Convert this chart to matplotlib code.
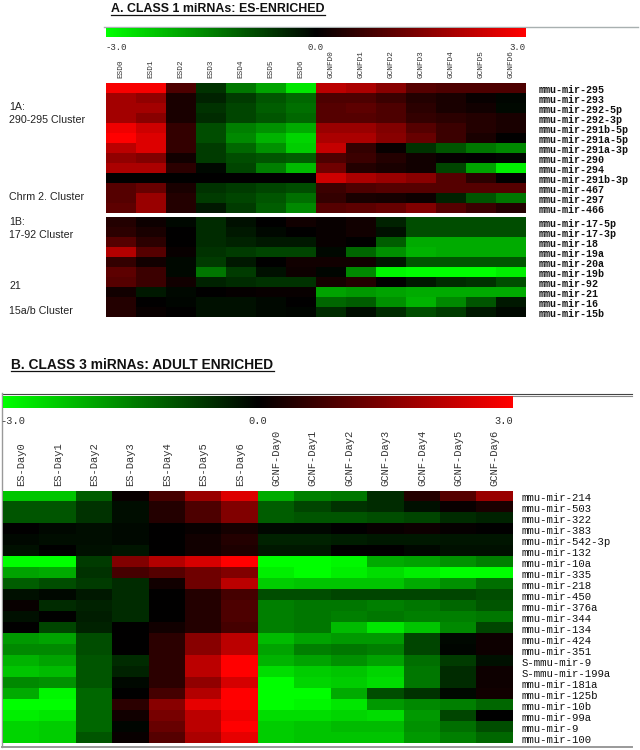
import numpy as np
import matplotlib
matplotlib.use("Agg")
import matplotlib.pyplot as plt
from matplotlib.cm import ScalarMappable
from matplotlib.colors import LinearSegmentedColormap, Normalize
from matplotlib.transforms import ScaledTranslation

W, H = 640, 750

columns_a = ["ESD0", "ESD1", "ESD2", "ESD3", "ESD4", "ESD5", "ESD6",
             "GCNFD0", "GCNFD1", "GCNFD2", "GCNFD3", "GCNFD4", "GCNFD5", "GCNFD6"]
columns_b = ["ES-Day0", "ES-Day1", "ES-Day2", "ES-Day3", "ES-Day4", "ES-Day5", "ES-Day6",
             "GCNF-Day0", "GCNF-Day1", "GCNF-Day2", "GCNF-Day3", "GCNF-Day4", "GCNF-Day5", "GCNF-Day6"]

rows_a1 = ["mmu-mir-295", "mmu-mir-293", "mmu-mir-292-5p", "mmu-mir-292-3p", "mmu-mir-291b-5p",
           "mmu-mir-291a-5p", "mmu-mir-291a-3p", "mmu-mir-290", "mmu-mir-294", "mmu-mir-291b-3p",
           "mmu-mir-467", "mmu-mir-297", "mmu-mir-466"]
values_a1 = [
    [2.9, 2.9, 0.9, -0.6, -1.4, -1.9, -2.7, 2.2, 2.0, 1.6, 1.0, 0.9, 0.9, 0.9],
    [1.9, 1.7, 0.3, -0.4, -0.7, -1.0, -1.2, 0.9, 0.9, 0.7, 0.4, 0.3, 0.1, -0.05],
    [1.9, 1.9, 0.3, -0.6, -0.8, -1.1, -1.3, 1.0, 1.1, 0.9, 0.5, 0.3, 0.2, -0.1],
    [1.9, 1.6, 0.3, -0.5, -0.8, -1.0, -1.2, 1.0, 1.0, 0.9, 0.6, 0.5, 0.4, 0.3],
    [2.8, 2.4, 0.6, -0.9, -1.5, -1.7, -2.0, 1.8, 1.8, 1.5, 1.0, 0.7, 0.4, 0.3],
    [3.0, 2.6, 0.6, -0.9, -1.6, -2.1, -2.5, 2.0, 2.0, 1.6, 1.2, 0.7, 0.3, 0.0],
    [2.2, 2.6, 0.6, -0.7, -1.2, -1.7, -2.4, 2.3, 0.6, 0.1, -0.6, -1.0, -1.4, -1.6],
    [1.7, 1.5, 0.2, -0.7, -0.9, -1.0, -1.1, 0.9, 0.7, 0.4, 0.2, 0.05, 0.0, -0.05],
    [2.0, 2.0, 0.5, -0.1, -0.8, -1.5, -2.2, 1.3, 0.4, 0.3, 0.2, -0.8, -1.9, -2.8],
    [0.0, 0.0, 0.0, 0.0, 0.0, 0.0, 0.0, 2.4, 2.0, 1.8, 1.6, 1.0, 0.5, 0.0],
    [1.0, 1.2, 0.3, -0.6, -0.7, -0.8, -0.9, 0.7, 0.9, 1.0, 1.0, 1.0, 1.0, 1.0],
    [1.0, 1.8, 0.4, -0.7, -0.8, -1.0, -1.3, 0.6, 0.3, 0.25, 0.15, -0.4, -1.0, -1.4],
    [1.1, 1.8, 0.4, -0.3, -0.7, -1.1, -1.6, 1.0, 1.1, 1.2, 1.5, 1.0, 0.7, 0.4],
]

rows_a2 = ["mmu-mir-17-5p", "mmu-mir-17-3p", "mmu-mir-18", "mmu-mir-19a", "mmu-mir-20a",
           "mmu-mir-19b", "mmu-mir-92", "mmu-mir-21", "mmu-mir-16", "mmu-mir-15b"]
values_a2 = [
    [0.4, 0.15, -0.1, -0.5, -0.2, 0.0, 0.2, 0.1, 0.2, -0.4, -0.9, -0.9, -0.9, -0.9],
    [0.5, 0.3, 0.0, -0.5, -0.3, -0.1, 0.0, 0.1, 0.2, -0.2, -0.9, -0.9, -0.9, -0.9],
    [1.0, 0.5, 0.0, -0.5, -0.4, -0.3, -0.3, 0.1, 0.0, -1.1, -2.0, -2.0, -2.0, -2.0],
    [2.1, 1.0, 0.1, -0.6, -0.7, -0.8, -0.8, -0.1, -1.2, -1.7, -2.1, -2.0, -2.0, -2.0],
    [0.6, 0.2, -0.1, -0.7, -0.3, 0.0, 0.2, 0.2, 0.2, -0.3, -1.0, -1.0, -1.0, -1.0],
    [1.1, 0.7, -0.1, -1.4, -0.7, -0.2, 0.15, -0.05, -1.6, -2.9, -3.0, -3.0, -3.0, -2.8],
    [1.0, 0.7, 0.2, -0.4, -0.5, -0.6, -0.6, 0.25, 0.4, 0.0, -0.3, -0.5, -0.6, -0.9],
    [0.2, -0.3, -0.1, 0.0, 0.05, 0.1, 0.1, -1.9, -1.8, -1.9, -2.0, -2.0, -2.0, -2.0],
    [0.4, 0.0, -0.05, -0.2, -0.2, -0.1, 0.0, -1.2, -1.1, -1.7, -2.1, -1.6, -1.0, -0.3],
    [0.4, 0.1, 0.0, -0.2, -0.2, -0.1, -0.05, -0.5, -0.15, -0.5, -0.9, -0.7, -0.3, -0.1],
]

rows_b = ["mmu-mir-214", "mmu-mir-503", "mmu-mir-322", "mmu-mir-383", "mmu-mir-542-3p", "mmu-mir-132",
          "mmu-mir-10a", "mmu-mir-335", "mmu-mir-218", "mmu-mir-450", "mmu-mir-376a", "mmu-mir-344",
          "mmu-mir-134", "mmu-mir-424", "mmu-mir-351", "S-mmu-mir-9", "S-mmu-mir-199a", "mmu-mir-181a",
          "mmu-mir-125b", "mmu-mir-10b", "mmu-mir-99a", "mmu-mir-9", "mmu-mir-100"]
values_b = [
    [-2.3, -2.3, -1.1, 0.1, 0.8, 1.8, 2.6, -2.0, -1.5, -1.4, -0.5, 0.4, 1.0, 1.8],
    [-1.0, -1.0, -0.6, -0.15, 0.4, 0.9, 1.5, -1.1, -0.8, -0.6, -0.5, -0.2, 0.1, 0.3],
    [-1.0, -1.0, -0.6, -0.15, 0.4, 0.9, 1.5, -1.1, -1.0, -1.0, -0.9, -0.8, -0.5, -0.4],
    [0.0, -0.1, -0.15, -0.1, 0.0, 0.1, 0.25, -0.1, -0.1, 0.0, 0.1, 0.15, 0.05, 0.0],
    [-0.1, -0.15, -0.15, -0.1, 0.0, 0.2, 0.4, -0.4, -0.4, -0.35, -0.3, -0.3, -0.25, -0.25],
    [-0.2, -0.02, -0.2, -0.25, 0.0, 0.2, 0.35, -0.3, -0.3, 0.0, 0.0, -0.1, -0.2, -0.2],
    [-3.0, -3.0, -0.7, 1.5, 2.1, 2.5, 3.0, -3.0, -3.0, -2.9, -2.0, -1.9, -1.7, -1.5],
    [-1.9, -2.0, -0.6, 0.8, 1.0, 1.3, 1.5, -2.8, -3.0, -2.8, -2.6, -2.8, -3.0, -3.0],
    [-1.1, -0.9, -0.7, -0.5, 0.2, 1.3, 2.2, -2.4, -2.3, -2.3, -2.3, -2.0, -1.7, -1.3],
    [-0.2, -0.1, -0.3, -0.5, 0.0, 0.4, 0.8, -0.9, -0.9, -0.8, -0.8, -0.8, -0.8, -0.9],
    [0.1, -0.5, -0.4, -0.5, 0.0, 0.4, 0.9, -1.5, -1.4, -1.4, -1.5, -1.4, -1.2, -1.0],
    [-0.2, 0.0, -0.35, -0.5, 0.0, 0.4, 0.9, -1.5, -1.4, -1.5, -1.4, -1.5, -1.5, -1.4],
    [0.0, -0.8, -0.4, 0.0, 0.2, 0.4, 0.8, -1.5, -1.4, -2.2, -2.7, -2.3, -1.6, -0.8],
    [-1.8, -1.9, -0.9, 0.0, 0.5, 1.6, 2.2, -2.2, -1.9, -1.8, -1.8, -0.8, -0.1, 0.15],
    [-1.6, -1.6, -0.9, 0.0, 0.5, 1.6, 2.2, -1.9, -1.5, -1.4, -1.5, -0.8, -0.05, 0.15],
    [-2.1, -1.9, -1.0, -0.5, 0.5, 2.2, 3.0, -2.1, -1.9, -1.7, -1.9, -1.3, -0.7, -0.2],
    [-2.3, -2.2, -1.0, -0.4, 0.5, 2.2, 3.0, -2.6, -2.4, -2.3, -2.5, -1.4, -0.5, 0.15],
    [-1.6, -1.7, -1.0, -0.1, 0.5, 1.7, 2.5, -3.0, -2.5, -2.4, -2.6, -1.4, -0.5, 0.15],
    [-2.0, -2.9, -1.2, 0.0, 0.8, 2.1, 3.0, -3.0, -3.0, -2.0, -0.9, -0.6, -0.1, 0.2],
    [-3.0, -3.0, -1.2, 0.5, 1.6, 2.7, 3.0, -3.0, -2.9, -2.7, -1.8, -1.6, -1.5, -1.2],
    [-2.8, -2.7, -1.2, 0.2, 1.4, 2.2, 2.8, -2.6, -2.6, -2.5, -2.6, -1.8, -0.8, -0.02],
    [-2.5, -2.4, -1.2, -0.05, 1.2, 2.2, 3.0, -2.4, -2.3, -2.2, -2.2, -1.7, -1.3, -0.9],
    [-2.5, -2.4, -1.0, 0.1, 1.0, 2.0, 2.7, -2.4, -2.3, -2.3, -2.3, -1.8, -1.5, -1.2],
]

cluster_labels = [("1A:", 107), ("290-295 Cluster", 120), ("Chrm 2. Cluster", 197),
                  ("1B:", 222), ("17-92 Cluster", 235), ("21", 286), ("15a/b Cluster", 311)]

cmap = LinearSegmentedColormap.from_list("gbr", ["#00ff00", "#000000", "#ff0000"])
norm = Normalize(-3, 3)
MONO = "Liberation Mono"
SANS = "Liberation Sans"


def px_axes(fig, x0, y0, x1, y1):
    return fig.add_axes([x0 / W, 1 - y1 / H, (x1 - x0) / W, (y1 - y0) / H])


def heatmap(fig, box, values, rows, columns=None, col_size=7.5, row_size=7.5, row_weight="normal", row_pad=3.5):
    ax = px_axes(fig, *box)
    ax.imshow(np.array(values), cmap=cmap, norm=norm, aspect="auto", interpolation="nearest")
    ax.yaxis.tick_right()
    ax.set_yticks(range(len(rows)), rows, fontfamily=MONO, fontsize=row_size,
                  fontweight=row_weight, color="#111111")
    if columns:
        ax.xaxis.tick_top()
        ax.set_xticks(range(len(columns)), columns, rotation=90, fontfamily=MONO,
                      fontsize=col_size, color="#333333")
    else:
        ax.set_xticks([])
    ax.tick_params(length=0)
    ax.tick_params(axis="y", pad=row_pad)
    # row names sit about 1 px under the middle of their rows
    nudge = ScaledTranslation(0, -1 / 100, fig.dpi_scale_trans)
    for label in ax.get_yticklabels():
        label.set_transform(label.get_transform() + nudge)
    for spine in ax.spines.values():
        spine.set_visible(False)
    return ax


def color_strip(fig, box, size, pad, left_shift=0):
    ax = px_axes(fig, *box)
    cb = fig.colorbar(ScalarMappable(norm=norm, cmap=cmap), cax=ax, orientation="horizontal",
                      ticks=[-3, 0, 3])
    cb.outline.set_visible(False)
    ax.tick_params(length=0, pad=pad)
    ax.set_xticklabels(["-3.0", "0.0", "3.0"], fontfamily=MONO, fontsize=size, color="#333333")
    labels = ax.get_xticklabels()
    labels[0].set_ha("left")
    labels[2].set_ha("right")
    if left_shift:
        shift = ScaledTranslation(-left_shift / 100, 0, fig.dpi_scale_trans)
        labels[0].set_transform(labels[0].get_transform() + shift)


fig = plt.figure(figsize=(W / 100, H / 100), dpi=100, facecolor="white")

# overlay in pixel coordinates for titles and rules
overlay = fig.add_axes([0, 0, 1, 1])
overlay.set_xlim(0, W)
overlay.set_ylim(H, 0)
overlay.axis("off")

overlay.text(111, 9.5, "A. CLASS 1 miRNAs: ES-ENRICHED", fontfamily=SANS, fontsize=8.9,
             fontweight="bold", va="center", color="#111111")
overlay.plot([111, 325], [15, 15], color="#111111", lw=0.9)
overlay.text(11, 365, "B. CLASS 3 miRNAs: ADULT ENRICHED", fontfamily=SANS, fontsize=9.9,
             fontweight="bold", va="center", color="#111111")
overlay.plot([11, 274], [371, 371], color="#111111", lw=0.9)

for text, y in cluster_labels:
    overlay.text(9, y, text, fontfamily=SANS, fontsize=7.7, va="center", color="#222222")

overlay.plot([104, 638], [27, 27], color="#a8b0b0", lw=1)
overlay.plot([2, 632], [393.5, 393.5], color="#444444", lw=0.8)
overlay.plot([2, 632], [395.5, 395.5], color="#888888", lw=0.8)
overlay.plot([2, 2], [393, 747], color="#999999", lw=1)
overlay.plot([2, 632], [747, 747], color="#999999", lw=1.4)

color_strip(fig, (106, 28, 526, 37), 6.5, 4.5)
heatmap(fig, (106, 83, 526, 213), values_a1, rows_a1, columns_a, col_size=5.6, row_size=7.2,
        row_weight="bold", row_pad=9.3)
heatmap(fig, (106, 217, 526, 317), values_a2, rows_a2, row_size=7.2, row_weight="bold", row_pad=9.3)

color_strip(fig, (3, 396, 513, 408), 7.5, 5.6, left_shift=3)
heatmap(fig, (3, 491, 513, 743), values_b, rows_b, columns_b, col_size=7.5, row_size=7.7, row_pad=6.4)

fig.savefig("out.png", dpi=100)
